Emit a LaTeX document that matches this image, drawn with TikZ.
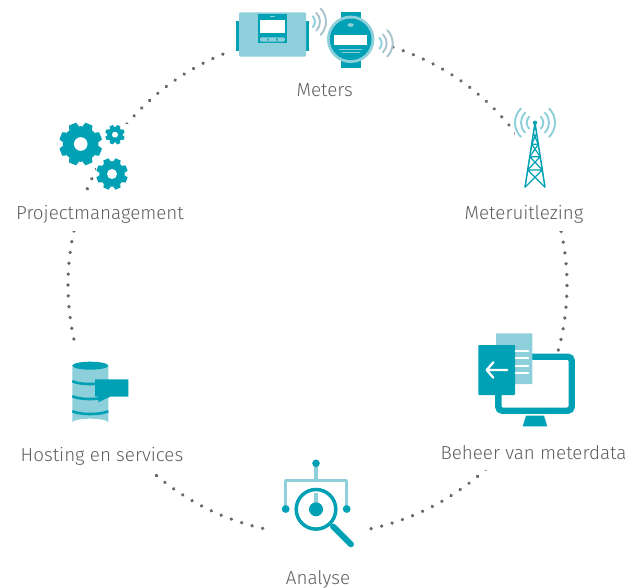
\documentclass[tikz,border=0pt]{standalone}
\usepackage{fontspec}
\usetikzlibrary{calc}
\setmainfont{Fira Sans}[UprightFont=* Light]
\definecolor{teal}{HTML}{00A1B5}
\definecolor{lightteal}{HTML}{8DCFDA}
\definecolor{wavegrey}{HTML}{A9C3CC}
\definecolor{dotgrey}{HTML}{666666}
\definecolor{labelgrey}{HTML}{5F5F5F}
\tikzset{
  dotarc/.style={draw=dotgrey,line width=3.7pt,line cap=round,dash pattern=on 0.01pt off 10.877pt},
  masked/.style={fill=white,draw=none},
  lbl/.style={text=labelgrey,font=\fontsize{18.8}{21}\selectfont,inner sep=0pt,anchor=base},
  wave/.style={draw=#1,line width=1.9pt,line cap=round},
  solidteal/.style={fill=teal,draw=none},
  solidlight/.style={fill=lightteal,draw=none},
  whitebar/.style={draw=white,line cap=round,line width=1.8pt},
}
\newcommand{\gearicon}[6]{%
  \begin{scope}[shift={(#1,#2)}]
    \fill[teal] (0,0) circle[radius=#4];
    \foreach \a in {0,45,...,315}{
      \fill[teal,rotate=\a+22.5] (-#6,#4-0.6) -- (-0.72*#6,#3) -- (0.72*#6,#3) -- (#6,#4-0.6) -- cycle;
    }
    \fill[white] (0,0) circle[radius=#5];
  \end{scope}}
\begin{document}
\begin{tikzpicture}[x=1pt,y=-1pt]
\useasboundingbox (0,0) rectangle (635,588);
\coordinate (hub) at (317.5,285);
\coordinate (pm-out) at ($(hub)+(202.7:249.5)$);
\coordinate (me-out) at ($(hub)+(287.6:249.5)$);
\coordinate (mu-out) at ($(hub)+(347.6:249.5)$);
\coordinate (be-out) at ($(hub)+(47.6:249.5)$);
\coordinate (an-out) at ($(hub)+(102.7:249.5)$);
\coordinate (ho-out) at ($(hub)+(165:249.5)$);
\draw[dotarc] (pm-out) arc[start angle=202.7,end angle=250.2,radius=249.5];
\draw[dotarc] (me-out) arc[start angle=287.6,end angle=322.7,radius=249.5];
\draw[dotarc] (mu-out) arc[start angle=347.6,end angle=375.3,radius=249.5];
\draw[dotarc] (be-out) arc[start angle=47.6,end angle=80.2,radius=249.5];
\draw[dotarc] (an-out) arc[start angle=102.7,end angle=130.4,radius=249.5];
\draw[dotarc] (ho-out) arc[start angle=165,end angle=192.6,radius=249.5];
% masks under the icons and labels
\fill[masked] (232,0) rectangle (393,85);
\fill[masked] (96,124.5) rectangle (136,192);
\fill[masked] (10,200) rectangle (190,231);
\fill[masked] (460,200) rectangle (590,231);
\fill[masked] (515,100) rectangle (560,190);
\fill[masked] (430,440) rectangle (632,469.8);
\fill[masked] (265,455) rectangle (361.8,550);
\fill[masked] (60,347.6) rectangle (130,405);
% --- meter 1
\fill[solidteal] (236,20.7) rectangle (308.7,51);
\fill[solidlight,rounded corners=1pt] (239,12.3) rectangle (306,56.7);
\fill[solidteal] (257.7,14) rectangle (287,43);
\fill[white] (260,20.3) rectangle (285,32.7);
\fill[solidlight] (270,15.7) rectangle (274.7,17.3);
\fill[solidlight,rounded corners=1.5pt] (260,37.4) rectangle (285,41.6);
\fill[teal] (267.5,37.4) -- (267.5,41.6) -- (269,39.5) -- cycle;
\fill[teal] (277.5,37.4) -- (277.5,41.6) -- (276,39.5) -- cycle;
% --- waves between the meters
\foreach \r/\c in {7.7/lightteal,12.7/wavegrey,18.7/wavegrey}{
  \draw[wave=\c] (307.3,21.7) ++(-45:\r) arc[start angle=-45,end angle=45,radius=\r];
  \draw[wave=\c] (374,43.3) ++(-45:\r) arc[start angle=-45,end angle=45,radius=\r];
}
% --- meter 2 (watch)
\fill[solidteal] (340.7,12.3) rectangle (361,67.7);
\fill[lightteal] (350.7,39.3) circle[radius=23.7];
\fill[teal] (350.7,39.3) circle[radius=20.8];
\fill[white] (334,35) rectangle (367.3,45);
\fill[lightteal] (350.7,25) ellipse[x radius=3.2,y radius=1.8];
\draw[lightteal,line width=0.7pt] (339.3,49.8) -- (362.3,49.8) (341.5,52.6) -- (360,52.6);
% --- gears
\gearicon{80.7}{144}{21.5}{17.8}{6.8}{5.2}
\gearicon{115}{134.7}{9.8}{7.8}{3}{2.4}
\gearicon{112}{174}{15.8}{12.8}{5}{3.8}
% --- tower
\foreach \r/\sa in {8.3/0,14/0,20/0}{
  \draw[wave=lightteal] (535,122.7) ++(-45:\r) arc[start angle=-45,end angle=45,radius=\r];
  \draw[wave=lightteal] (535,122.7) ++(135:\r) arc[start angle=135,end angle=225,radius=\r];
}
\draw[teal,line width=1.5pt,line join=round] (525,187.3) -- (535,123) -- (545,187.3);
\draw[teal,line width=1.2pt,line join=round]
  (533.4,133.3) -- (538.3,144.3) -- (531.7,144.3) (536.6,133.3) -- (531.7,144.3)
  (538.3,144.3) -- (529.8,156.7) -- (540.2,156.7) -- (531.7,144.3)
  (540.2,156.7) -- (527.7,170) -- (542.3,170) -- (529.8,156.7)
  (542.3,170) -- (525,187.3) (527.7,170) -- (545,187.3);
\fill[teal] (535,122.7) circle[radius=2.1];
% --- monitor
\draw[teal,line width=6.4pt,rounded corners=4pt] (498.3,356.7) rectangle (571.7,410.7);
\fill[solidteal] (526,415.7) -- (544,415.7) -- (547.3,426.3) -- (522.7,426.3) -- cycle;
\fill[solidlight,rounded corners=0.8pt] (496,333.3) rectangle (532.3,384);
\fill[solidteal,rounded corners=0.8pt] (478.3,345) rectangle (515,395);
\foreach \y in {350.7,358.3,365.7,373.3}{\draw[whitebar] (515.5,\y) -- (528.3,\y);}
\draw[whitebar,line width=2.3pt,line join=round] (507.3,370) -- (487,370) (493.3,362.3) -- (486.7,370) -- (493.3,377.7);
% --- analysis
\draw[lightteal,line width=3.6pt] (316,463.3) -- (316,480);
\draw[lightteal,line width=2.6pt,line join=round] (285.7,509) -- (285.7,480.7) -- (346.7,480.7) -- (346.7,509);
\draw[lightteal,line width=3.6pt] (316,493) -- (316,505);
\fill[teal] (316,463.3) circle[radius=3.8];
\fill[teal] (285.7,509) circle[radius=3.9];
\fill[teal] (346.7,509) circle[radius=3.9];
\draw[teal,line width=3.5pt] (316,509.3) circle[radius=19.8];
\fill[teal] (316,509.3) circle[radius=7];
\draw[teal,line width=6pt,line cap=round] (333,526.5) -- (351,544.3);
% --- database
\fill[solidlight] (72.3,365.7) -- (72.3,422.5) arc[start angle=180,end angle=0,x radius=18,y radius=-3.8] -- (108.3,365.7) -- cycle;
\fill[teal] (90.3,365.7) ellipse[x radius=18,y radius=4];
\foreach \y in {381.2,396.2,411.2}{
  \draw[teal,line width=2.6pt] (72.3,\y) .. controls (80,\y+3.8) and (100.6,\y+3.8) .. (108.3,\y);
}
\fill[solidteal] (95,379.3) -- (128.3,379.3) -- (128.3,396.7) -- (110,396.7) -- (98.3,402.3) -- (98.3,396.7) -- (95,396.7) -- cycle;
% --- labels
\node[lbl] (meters) at (324.7,96.5) {Meters};
\node[lbl] (meteruitlezing) at (524,220) {Meteruitlezing};
\node[lbl] (beheer) at (533.5,459) {Beheer van meterdata};
\node[lbl] (analyse) at (318,584) {Analyse};
\node[lbl] (hosting) at (102,461) {Hosting en services};
\node[lbl] (project) at (100,220) {Projectmanagement};
\end{tikzpicture}
\end{document}
